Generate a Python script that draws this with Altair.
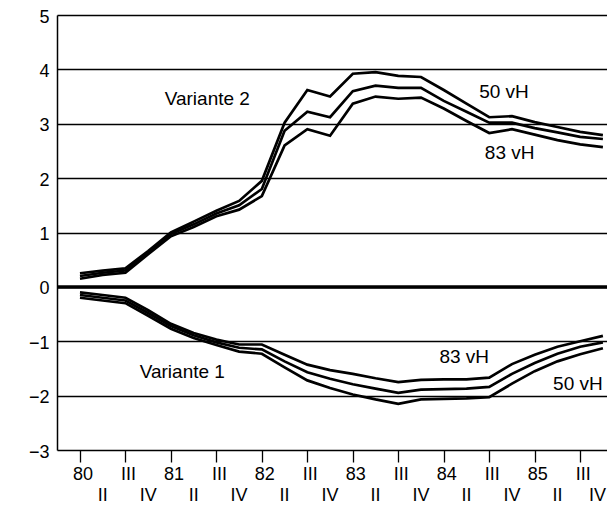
import altair as alt
import pandas as pd

# ---- data -------------------------------------------------------------
quarters = list(range(24))  # 80 I ... 85 IV
years = ["80", "81", "82", "83", "84", "85"]
roman = ["I", "II", "III", "IV"]

# Variante 2 (upper band)
v2_50 = [0.25, 0.30, 0.34, 0.66, 1.00, 1.20, 1.40, 1.58, 1.95, 3.02, 3.62, 3.50,
         3.92, 3.95, 3.88, 3.86, 3.62, 3.37, 3.12, 3.14, 3.03, 2.94, 2.85, 2.79]
v2_mid = [0.20, 0.26, 0.30, 0.63, 0.97, 1.15, 1.35, 1.50, 1.80, 2.87, 3.22, 3.12,
          3.60, 3.70, 3.66, 3.66, 3.42, 3.22, 3.02, 3.02, 2.92, 2.84, 2.76, 2.72]
v2_83 = [0.15, 0.22, 0.26, 0.60, 0.93, 1.10, 1.30, 1.42, 1.67, 2.60, 2.90, 2.78,
         3.37, 3.50, 3.46, 3.48, 3.28, 3.05, 2.83, 2.90, 2.80, 2.70, 2.62, 2.57]

# Variante 1 (lower band)
v1_83 = [-0.10, -0.15, -0.20, -0.43, -0.68, -0.85, -0.97, -1.06, -1.06, -1.25, -1.43, -1.53,
         -1.60, -1.68, -1.75, -1.71, -1.70, -1.70, -1.67, -1.42, -1.25, -1.10, -1.00, -0.90]
v1_mid = [-0.15, -0.20, -0.25, -0.48, -0.72, -0.89, -1.02, -1.12, -1.15, -1.37, -1.57, -1.69,
          -1.79, -1.87, -1.95, -1.89, -1.88, -1.87, -1.84, -1.60, -1.40, -1.23, -1.10, -1.02]
v1_50 = [-0.20, -0.25, -0.30, -0.53, -0.77, -0.94, -1.07, -1.19, -1.23, -1.48, -1.72, -1.86,
         -1.98, -2.07, -2.15, -2.07, -2.06, -2.05, -2.03, -1.78, -1.55, -1.37, -1.24, -1.13]

series = {
    "V2 50 vH": v2_50, "V2 mid": v2_mid, "V2 83 vH": v2_83,
    "V1 83 vH": v1_83, "V1 mid": v1_mid, "V1 50 vH": v1_50,
}

ann_text = ["Variante 2", "50 vH", "83 vH", "Variante 1", "83 vH", "50 vH"]
ann_q = [5.6, 18.65, 18.9, 4.5, 16.9, 21.9]
ann_v = [3.45, 3.58, 2.47, -1.57, -1.29, -1.78]

# ---- tables -------------------------------------------------------------
rows = []
for name, vals in series.items():
    for q, v in zip(quarters, vals):
        rows.append({"series": name, "q": q, "v": v})
df = pd.DataFrame(rows)

lab_rows = []
for q in quarters:
    r = q % 4
    text = years[q // 4] if r == 0 else roman[r]
    lab_rows.append({"q": q, "label": text, "row": "upper" if r % 2 == 0 else "lower",
                     "last": q == quarters[-1]})
labels = pd.DataFrame(lab_rows)

ann = pd.DataFrame({"text": ann_text, "q": ann_q, "v": ann_v})

W, H = 550, 435
FONT = "Liberation Sans"
xs = alt.Scale(domain=[-1.01, 23.18], nice=False, zero=False)
ys = alt.Scale(domain=[-3, 5], nice=False, zero=False)

lines = alt.Chart(df).mark_line(color="black", strokeWidth=2.7, strokeJoin="miter").encode(
    x=alt.X("q:Q", scale=xs,
            axis=alt.Axis(values=quarters, ticks=True, tickSize=12, tickColor="black",
                          tickWidth=1.3, labels=False, domain=False, grid=False, title=None)),
    y=alt.Y("v:Q", scale=ys,
            axis=alt.Axis(values=list(range(-3, 6)), grid=True, gridColor="black",
                          gridWidth=1.5, gridOpacity=1, domain=True, domainColor="black",
                          domainWidth=1.5, ticks=False, labelFontSize=18, labelColor="black",
                          labelFont=FONT, labelPadding=8, labelOffset=2, title=None,
                          labelExpr="datum.value < 0 ? '\u2212' + abs(datum.value) : '' + datum.value")),
    detail="series:N",
)

zero = alt.Chart(pd.DataFrame({"v": [0]})).mark_rule(color="black", strokeWidth=3.5).encode(
    y=alt.Y("v:Q", scale=ys)
)

upper = alt.Chart(labels).transform_filter(alt.datum.row == "upper").mark_text(
    font=FONT, fontSize=18, color="black", baseline="middle", dx=3
).encode(x=alt.X("q:Q", scale=xs), y=alt.value(H + 25), text="label:N")

lower = alt.Chart(labels).transform_filter(
    (alt.datum.row == "lower") & (alt.datum.last == False)
).mark_text(
    font=FONT, fontSize=18, color="black", baseline="middle"
).encode(x=alt.X("q:Q", scale=xs), y=alt.value(H + 46), text="label:N")

lower_last = alt.Chart(labels).transform_filter(alt.datum.last == True).mark_text(
    font=FONT, fontSize=18, color="black", baseline="middle", align="right", dx=3
).encode(x=alt.X("q:Q", scale=xs), y=alt.value(H + 46), text="label:N")

notes = alt.Chart(ann).mark_text(font=FONT, fontSize=19, color="black", baseline="middle").encode(
    x=alt.X("q:Q", scale=xs), y=alt.Y("v:Q", scale=ys), text="text:N"
)

chart = alt.layer(lines, zero, upper, lower, lower_last, notes).properties(
    width=W, height=H,
    autosize=alt.AutoSizeParams(type="none"),
    padding={"left": 49, "top": 7, "right": 0, "bottom": 55},
    background="white",
).configure_view(stroke=None)

chart.save("out.html", embed_options={"renderer": "svg", "actions": False})
